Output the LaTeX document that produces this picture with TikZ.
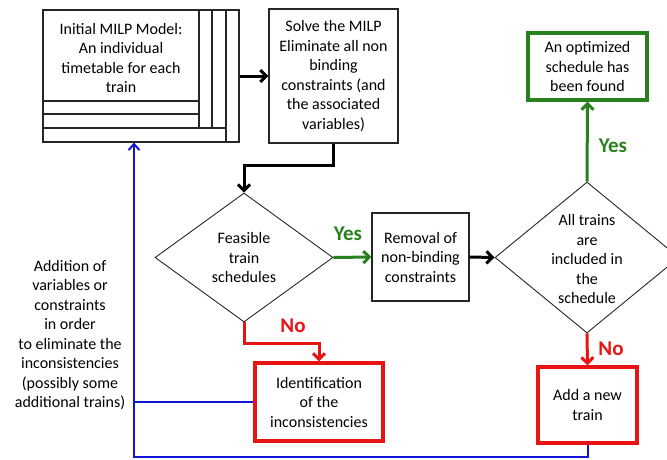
\documentclass[tikz,border=0pt]{standalone}
\usepackage{fontspec}
\setmainfont{Carlito}
\usetikzlibrary{arrows.meta,shapes.geometric}
\definecolor{cgreen}{RGB}{40,128,30}
\definecolor{cred}{RGB}{232,20,20}
\definecolor{cblue}{RGB}{20,20,215}
\tikzset{
  txt/.style={align=center,font=\fontsize{16}{19.5}\selectfont,inner sep=0pt},
  lbl/.style={font=\fontsize{21}{23}\selectfont\bfseries,inner sep=0pt},
  bbox/.style={draw=black!85,line width=1.2pt,inner sep=0pt},
  gbox/.style={draw=cgreen,line width=3.2pt,inner sep=0pt},
  rbox/.style={draw=cred,line width=3.2pt,inner sep=0pt},
  dia/.style={shape=diamond,draw=black!85,line width=0.9pt,inner sep=0pt},
  tip/.style={-{Straight Barb[length=6pt,width=12pt]}},
  blk/.style={tip,line width=3pt,draw=black},
  grn/.style={tip,line width=3pt,draw=cgreen},
  rdl/.style={tip,line width=3pt,draw=cred},
  blu/.style={line width=2pt,draw=cblue},
}
\begin{document}
\begin{tikzpicture}[x=1pt,y=-1pt]
\useasboundingbox (0,0) rectangle (667,459);
\clip (0,0) rectangle (667,459);
% initial model (stacked pages)
\node[bbox,minimum width=196pt,minimum height=132pt] (init) at (141,76) {};
\draw[black!85,line width=1.2pt] (199,10) -- (199,128) (212,10) -- (212,128) (226,10) -- (226,142)
  (43,101) -- (199,101) (43,114) -- (199,114) (43,128) -- (226,128);
\node[txt] (inittxt) at (121,58) {Initial MILP Model:\\An individual\\timetable for each\\train};
% solve
\node[bbox,minimum width=129pt,minimum height=134pt] (solve) at (333.5,76) {};
\node[txt] (solvetxt) at (solve) {Solve the MILP\\Eliminate all non\\binding\\constraints (and\\the associated\\variables)};
% feasible diamond
\node[dia,minimum width=178pt,minimum height=129pt] (feas) at (244,257.5) {};
\node[txt] (feastxt) at (feas) {Feasible\\train\\schedules};
% removal
\node[bbox,minimum width=97pt,minimum height=88pt] (rem) at (420.5,257) {};
\node[txt] (remtxt) at (rem) {Removal of\\non-binding\\constraints};
% all trains diamond
\node[dia,minimum width=184pt,minimum height=151pt] (all) at (587,257.5) {};
\node[txt] (alltxt) at (587,259) {All trains\\are\\included in\\the\\schedule};
% optimized
\node[gbox,minimum width=119pt,minimum height=67pt] (opt) at (587.5,66.5) {};
\node[txt] (opttxt) at (opt) {An optimized\\schedule has\\been found};
% add a new train
\node[rbox,minimum width=99pt,minimum height=76pt] (add) at (587.5,405) {};
\node[txt] (addtxt) at (add) {Add a new\\train};
% identification
\node[rbox,minimum width=128pt,minimum height=78pt] (ident) at (319,402) {};
\node[txt] (identtxt) at (ident) {Identification\\of the\\inconsistencies};
% left text
\node[txt] (addition) at (70,335) {Addition of\\variables or\\constraints\\in order\\to eliminate the\\inconsistencies\\(possibly some\\additional trains)};
% connectors
\draw[blk] (init.east) -- (solve.west);
\draw[blk] (solve.south) -- ++(0,22) -| (feas.north);
\draw[grn] (feas.east) -- (rem.west);
\draw[blk] (rem.east) -- (all.west);
\draw[grn] (all.north) -- (opt.south);
\draw[rdl] (all.south) -- (add.north);
\draw[rdl] (feas.south) -- ++(0,21) -| (ident.north);
\coordinate (bl) at (134,456.5);
\draw[blu,-{Straight Barb[length=6pt,width=11pt]}] (add.south) |- (bl) -- (bl |- init.south);
\draw[blu] (ident.west) -- (ident.west -| bl);
% labels
\node[lbl,text=cgreen] (yes1) at (348,234) {Yes};
\node[lbl,text=cgreen] (yes2) at (613,146) {Yes};
\node[lbl,text=cred] (no1) at (293,326) {No};
\node[lbl,text=cred] (no2) at (611,349) {No};
\end{tikzpicture}
\end{document}
